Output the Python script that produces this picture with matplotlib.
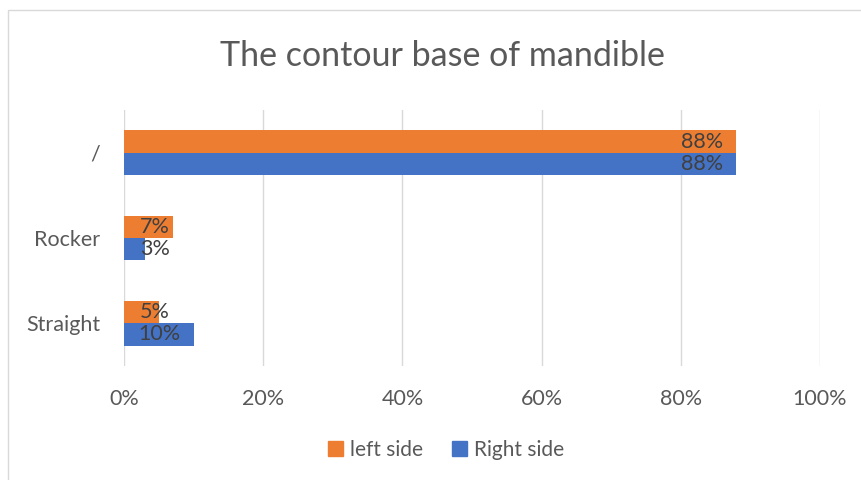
import numpy as np
import matplotlib.pyplot as plt
from matplotlib.patches import Rectangle, Patch
from matplotlib.transforms import offset_copy

plt.rcParams['font.family'] = ['Lato', 'DejaVu Sans']

categories = ["Straight", "Rocker", "/"]
left_side = [5, 7, 88]
right_side = [10, 3, 88]
xticks = [0, 20, 40, 60, 80, 100]

ORANGE = "#ED7D31"
BLUE = "#4472C4"
GRAY = "#595959"

fig = plt.figure(figsize=(8.62, 4.8), dpi=100)
ax = fig.add_axes([124 / 862, 1 - 366 / 480, 696 / 862, 256 / 480])

# chart frame
fig.patches.append(Rectangle((8 / 862, -0.1), 1.2, 1 - 10 / 480 + 0.1,
                             transform=fig.transFigure, fill=False,
                             edgecolor="#D9D9D9", linewidth=1))

y = np.arange(len(categories))
h = 0.26
bars_l = ax.barh(y + h / 2, left_side, height=h, color=ORANGE)
bars_r = ax.barh(y - h / 2, right_side, height=h, color=BLUE)

fig.canvas.draw()
renderer = fig.canvas.get_renderer()


def label(bars, vals):
    # inside-end labels; short bars get the label pushed to the base
    for b, v in zip(bars, vals):
        cy = b.get_y() + b.get_height() / 2
        kw = dict(va="center", fontsize=15.5, color="#404040")
        t = ax.text(v, cy, f"{v}%", ha="right",
                    transform=offset_copy(ax.transData, fig=fig, x=-13, y=0, units="dots"), **kw)
        bb = t.get_window_extent(renderer)
        base = ax.transData.transform((0, 0))[0] + 16
        if bb.x0 < base:
            t.remove()
            ax.text(0, cy, f"{v}%", ha="left",
                    transform=offset_copy(ax.transData, fig=fig, x=16, y=0, units="dots"), **kw)


label(bars_l, left_side)
label(bars_r, right_side)

ax.set_xlim(0, 100)
ax.set_ylim(-0.5, 2.5)
ax.set_xticks(xticks)
ax.set_xticklabels([f"{t}%" for t in xticks])
ax.set_yticks(y)
ax.set_yticklabels(categories)
ax.tick_params(length=0, labelsize=15.5, labelcolor=GRAY)
ax.tick_params(axis="x", pad=16.5)
ax.tick_params(axis="y", pad=17)
ax.grid(axis="x", color="#D9D9D9", linewidth=1)
ax.set_axisbelow(True)
for s in ax.spines.values():
    s.set_visible(False)

fig.text(442 / 862, 1 - 56 / 480, "The contour base of mandible", ha="center", va="center",
         fontsize=24.5, color=GRAY)

fig.legend(handles=[Patch(color=ORANGE, label="left side"), Patch(color=BLUE, label="Right side")],
           loc="center", bbox_to_anchor=(0.517, 1 - 450 / 480), ncol=2, frameon=False,
           fontsize=15, labelcolor=GRAY, handlelength=0.75, handleheight=0.75,
           handletextpad=0.3, columnspacing=1.4)

fig.savefig("out.png", dpi=100)
